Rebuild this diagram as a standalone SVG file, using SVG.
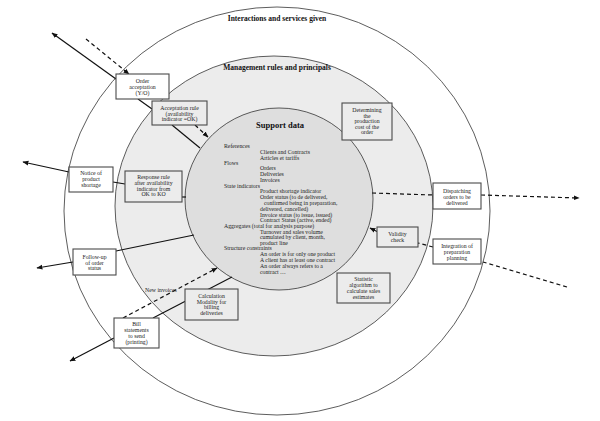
<svg xmlns="http://www.w3.org/2000/svg" width="600" height="421" viewBox="0 0 600 421">
<style>
.ring{stroke:#333;stroke-width:0.8}
.box{stroke:#4a4a4a;stroke-width:1.1}
.w{fill:#fff}
.g{fill:#ececec}
.t{font-family:"Liberation Serif","Times New Roman",serif;font-size:5.8px;fill:#222}
.c{text-anchor:middle}
.h{font-family:"Liberation Serif","Times New Roman",serif;font-weight:bold;fill:#111;text-anchor:middle}
.s{stroke:#111;stroke-width:1.2;fill:none}
.d{stroke:#111;stroke-width:1.2;fill:none;stroke-dasharray:4 3}
</style>
<defs>
<marker id="ah" viewBox="0 0 10 10" refX="9" refY="5" markerWidth="5" markerHeight="5" orient="auto-start-reverse">
<path d="M0,1 L10,5 L0,9 Z" fill="#111"/>
</marker>
</defs>
<rect width="600" height="421" fill="#fff"/>
<g id="rings">
<ellipse class="ring" cx="277" cy="211" rx="213" ry="204" fill="#fff"/>
<ellipse class="ring" cx="274" cy="206" rx="159" ry="150" fill="#ececec"/>
<ellipse class="ring" cx="279" cy="199" rx="94" ry="91" fill="#dedede"/>
<text class="h" x="277" y="21" font-size="7.5">Interactions and services given</text>
<text class="h" x="277" y="70" font-size="7.5">Management rules and principals</text>
</g>
<g id="connectors">
<line class="s" x1="116" y1="79" x2="52" y2="33" marker-end="url(#ah)"/>
<line class="d" x1="86" y1="39" x2="129" y2="74" marker-end="url(#ah)"/>
<line class="s" x1="138" y1="99" x2="152" y2="109"/>
<line class="s" x1="172" y1="125" x2="200" y2="148"/>
<line class="d" x1="195" y1="125" x2="208" y2="137" marker-end="url(#ah)"/>
<line class="s" x1="69" y1="172" x2="23" y2="162" marker-end="url(#ah)"/>
<line class="s" x1="113" y1="182" x2="125" y2="184"/>
<line class="s" x1="182" y1="197" x2="186" y2="197"/>
<line class="s" x1="116" y1="251" x2="194" y2="235"/>
<line class="s" x1="73" y1="262" x2="37" y2="268" marker-end="url(#ah)"/>
<line class="s" x1="153" y1="318" x2="232" y2="277"/>
<line class="s" x1="114" y1="338" x2="70" y2="361" marker-end="url(#ah)"/>
<line class="d" x1="123" y1="318" x2="217" y2="268" marker-end="url(#ah)"/>
<line class="d" x1="372" y1="193" x2="433" y2="195"/>
<line class="d" x1="481" y1="195" x2="579" y2="198" marker-end="url(#ah)"/>
<line class="d" x1="567" y1="287" x2="483" y2="262"/>
<line class="d" x1="433" y1="247" x2="418" y2="243"/>
<line class="s" x1="378" y1="232" x2="370" y2="228" marker-end="url(#ah)"/>
</g>
<g id="n1">
<rect class="box w" x="116" y="74" width="53" height="25"/>
<text class="t c" x="142.5" y="83">Order</text>
<text class="t c" x="142.5" y="89">acceptation</text>
<text class="t c" x="142.5" y="94.5">(Y/O)</text>
</g>
<g id="n2">
<rect class="box g" x="152" y="101" width="55" height="24"/>
<text class="t c" x="179.5" y="110">Acceptation rule</text>
<text class="t c" x="179.5" y="115.5">(availability</text>
<text class="t c" x="179.5" y="121">indicator =OK)</text>
</g>
<g id="n3">
<rect class="box g" x="342" y="103" width="50" height="37"/>
<text class="t c" x="367" y="112">Determining</text>
<text class="t c" x="367" y="117.6">the</text>
<text class="t c" x="367" y="123.2">production</text>
<text class="t c" x="367" y="128.8">cost of the</text>
<text class="t c" x="367" y="134.4">order</text>
</g>
<g id="n4">
<rect class="box w" x="69" y="167" width="44" height="25"/>
<text class="t c" x="91" y="175">Notice of</text>
<text class="t c" x="91" y="181">product</text>
<text class="t c" x="91" y="187">shortage</text>
</g>
<g id="n5">
<rect class="box g" x="125" y="171" width="57" height="31"/>
<text class="t c" x="153.5" y="179">Response rule</text>
<text class="t c" x="153.5" y="185">after availability</text>
<text class="t c" x="153.5" y="190.6">indicator from</text>
<text class="t c" x="153.5" y="196.2">OK to KO</text>
</g>
<g id="n6">
<rect class="box w" x="73" y="249" width="43" height="26"/>
<text class="t c" x="94.5" y="259">Follow-up</text>
<text class="t c" x="94.5" y="264.6">of order</text>
<text class="t c" x="94.5" y="270.2">status</text>
</g>
<g id="n7">
<rect class="box g" x="185" y="289" width="53" height="31"/>
<text class="t c" x="211.5" y="298">Calculation</text>
<text class="t c" x="211.5" y="303.6">Modality  for</text>
<text class="t c" x="211.5" y="309.2">billing</text>
<text class="t c" x="211.5" y="314.8">deliveries</text>
</g>
<g id="n8">
<rect class="box w" x="114" y="318" width="45" height="30"/>
<text class="t c" x="136.5" y="326">Bill</text>
<text class="t c" x="136.5" y="332">statements</text>
<text class="t c" x="136.5" y="338">to send</text>
<text class="t c" x="136.5" y="344">(printing)</text>
</g>
<g id="n9">
<rect class="box g" x="337" y="273" width="53" height="30"/>
<text class="t c" x="363.5" y="281">Statistic</text>
<text class="t c" x="363.5" y="287">algorithm to</text>
<text class="t c" x="363.5" y="293">calculate sales</text>
<text class="t c" x="363.5" y="299">estimates</text>
</g>
<g id="n10">
<rect class="box g" x="377" y="227" width="41" height="20"/>
<text class="t c" x="397.5" y="236">Validity</text>
<text class="t c" x="397.5" y="242">check</text>
</g>
<g id="n11">
<rect class="box w" x="433" y="183" width="48" height="26"/>
<text class="t c" x="457" y="193">Dispatching</text>
<text class="t c" x="457" y="199">orders to be</text>
<text class="t c" x="457" y="204.5">delivered</text>
</g>
<g id="n12">
<rect class="box w" x="433" y="239" width="48" height="25"/>
<text class="t c" x="457" y="248">Integration of</text>
<text class="t c" x="457" y="254">preparation</text>
<text class="t c" x="457" y="260">planning</text>
</g>
<g id="support">
<text class="h" x="280" y="128" font-size="8.5">Support data</text>
<text class="t" x="224" y="148">References</text>
<text class="t" x="260" y="154">Clients and Contracts</text>
<text class="t" x="260" y="160">Articles et tariffs</text>
<text class="t" x="224" y="164.5">Flows</text>
<text class="t" x="260" y="170">Orders</text>
<text class="t" x="260" y="176">Deliveries</text>
<text class="t" x="260" y="182">Invoices</text>
<text class="t" x="224" y="187.5">State indicators</text>
<text class="t" x="260" y="193">Product shortage indicator</text>
<text class="t" x="260" y="199">Order status (to de delivered,</text>
<text class="t" x="264" y="205">confirmed being in preparation,</text>
<text class="t" x="260" y="211">delivered, cancelled)</text>
<text class="t" x="260" y="216.5">Invoice status (to issue, issued)</text>
<text class="t" x="260" y="222">Contract Status (active, ended)</text>
<text class="t" x="224" y="227.5">Aggregates (total for analysis purpose)</text>
<text class="t" x="260" y="233.5">Turnover and  sales volume</text>
<text class="t" x="260" y="239">cumulated by client, month,</text>
<text class="t" x="260" y="244.5">product line</text>
<text class="t" x="224" y="250">Structure constraints</text>
<text class="t" x="260" y="256">An order is for only one product</text>
<text class="t" x="260" y="262">A client has at least one contract</text>
<text class="t" x="260" y="268">An order always refers to a</text>
<text class="t" x="260" y="274">contract …</text>
</g>
<text class="t" x="145" y="291.5">New invoices</text>
</svg>
